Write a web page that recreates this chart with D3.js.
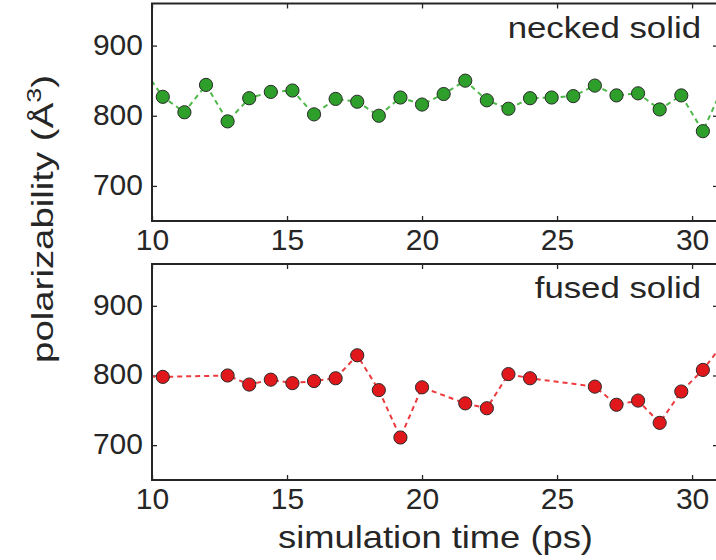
<!DOCTYPE html>
<html>
<head>
<meta charset="utf-8">
<script src="https://cdn.jsdelivr.net/npm/d3@7"></script>
<style>
  body { margin: 0; background: #fff; }
  svg { display: block; }
</style>
</head>
<body>
<svg id="chart" width="716" height="560"></svg>
<script>
// Polarizability along the MD trajectory, one panel per nanoparticle state
const neckedTime  = [9.6, 10.4, 11.2, 12.0, 12.8, 13.6, 14.4, 15.2, 16.0, 16.8, 17.6, 18.4, 19.2, 20.0,
                     20.8, 21.6, 22.4, 23.2, 24.0, 24.8, 25.6, 26.4, 27.2, 28.0, 28.8, 29.6, 30.4, 31.2];
const neckedPolar = [871, 827, 805, 844, 792, 825, 834, 836, 802, 824, 820, 800, 826, 816,
                     831, 850, 822, 810, 825, 826, 828, 843, 829, 832, 809, 829, 778, 846];

const fusedTime  = [9.6, 10.4, 12.8, 13.6, 14.4, 15.2, 16.0, 16.8, 17.6, 18.4, 19.2, 20.0,
                    21.6, 22.4, 23.2, 24.0, 26.4, 27.2, 28.0, 28.8, 29.6, 30.4, 31.2];
const fusedPolar = [799, 798, 800, 787, 794, 789, 792, 796, 829, 779, 711, 783,
                    760, 753, 802, 796, 784, 758, 764, 732, 777, 808, 848];

const xTicks = [10, 15, 20, 25, 30];
const yTicks = [700, 800, 900];
const xDomain = [10, 30.96];
const yDomain = [650, 960];

const panelNames = ["necked solid", "fused solid"];

const FONT = "'Liberation Sans', Arial, Helvetica, sans-serif";
const INK = "#262626";

const svg = d3.select("#chart");
const left = 152, right = 718;

const x = d3.scaleLinear().domain(xDomain).range([left, right]);

const panels = [
  { name: panelNames[0], time: neckedTime, polar: neckedPolar, top: 3.5, bottom: 221,
    fill: "#2e9f2a", line: "#4fb84a" },
  { name: panelNames[1], time: fusedTime, polar: fusedPolar, top: 264, bottom: 480,
    fill: "#e0181c", line: "#ec3b3e" }
];

// stretch a text node horizontally about its anchor so it spans `width` px
function fitWidth(node, width) {
  const w = node.getBBox().width;
  return width / w;
}

panels.forEach((p, i) => {
  const y = d3.scaleLinear().domain(yDomain).range([p.bottom, p.top]);
  const g = svg.append("g");

  const clipId = "clip" + i;
  svg.append("clipPath").attr("id", clipId)
    .append("rect")
    .attr("x", left).attr("y", p.top)
    .attr("width", right - left).attr("height", p.bottom - p.top);

  // ticks on all four sides, pointing inward
  const styleAxis = sel => {
    sel.select(".domain").remove();
    sel.selectAll(".tick line").attr("stroke", INK).attr("stroke-width", 1.3);
    sel.selectAll("text").attr("font-family", FONT).attr("font-size", 30).attr("fill", INK);
  };

  g.append("g").attr("transform", `translate(0,${p.bottom})`)
    .call(d3.axisBottom(x).tickValues(xTicks).tickSize(-5).tickPadding(8).tickFormat(d3.format("d")))
    .call(styleAxis);
  g.append("g").attr("transform", `translate(0,${p.top})`)
    .call(d3.axisTop(x).tickValues(xTicks).tickSize(-5).tickFormat(""))
    .call(styleAxis);
  g.append("g").attr("transform", `translate(${left},0)`)
    .call(d3.axisLeft(y).tickValues(yTicks).tickSize(-5).tickPadding(9).tickFormat(d3.format("d")))
    .call(styleAxis)
    .selectAll("text").attr("dy", "0.28em");
  g.append("g").attr("transform", `translate(${right},0)`)
    .call(d3.axisRight(y).tickValues(yTicks).tickSize(-5).tickFormat(""))
    .call(styleAxis);

  const data = p.time.map((t, k) => ({ t, v: p.polar[k] }));
  const plot = g.append("g").attr("clip-path", `url(#${clipId})`);

  plot.append("path")
    .datum(data)
    .attr("fill", "none")
    .attr("stroke", p.line)
    .attr("stroke-width", 2)
    .attr("stroke-dasharray", "5,4")
    .attr("d", d3.line().x(d => x(d.t)).y(d => y(d.v)));

  plot.selectAll("circle")
    .data(data)
    .join("circle")
    .attr("cx", d => x(d.t))
    .attr("cy", d => y(d.v))
    .attr("r", 6.6)
    .attr("fill", p.fill)
    .attr("stroke", "#2a2a2a")
    .attr("stroke-width", 1);

  // frame
  g.append("rect")
    .attr("x", left).attr("y", p.top)
    .attr("width", right - left).attr("height", p.bottom - p.top)
    .attr("fill", "none")
    .attr("stroke", INK)
    .attr("stroke-width", 2);

  // panel label, upper right
  const lbl = g.append("text")
    .attr("text-anchor", "end")
    .attr("font-family", FONT)
    .attr("font-size", 30)
    .attr("fill", INK)
    .text(p.name);
  const k = 1.16;
  lbl.attr("transform", `translate(701,${p.top + 34}) scale(${k},1)`);
});

// x axis title
const xt = svg.append("text")
  .attr("text-anchor", "middle")
  .attr("font-family", FONT)
  .attr("font-size", 31)
  .attr("fill", INK)
  .text("simulation time (ps)");
xt.attr("transform", `translate(435.5,548) scale(${fitWidth(xt.node(), 315)},1)`);

// y axis title with superscript
const yt = svg.append("text")
  .attr("text-anchor", "middle")
  .attr("font-family", FONT)
  .attr("font-size", 30)
  .attr("fill", INK);
yt.append("tspan").text("polarizability (Å");
yt.append("tspan").attr("font-size", 21).attr("dy", -12).text("3");
yt.append("tspan").attr("dy", 12).text(")");
yt.attr("transform", `translate(53,219) rotate(-90) scale(${fitWidth(yt.node(), 288)},1)`);
</script>
</body>
</html>
